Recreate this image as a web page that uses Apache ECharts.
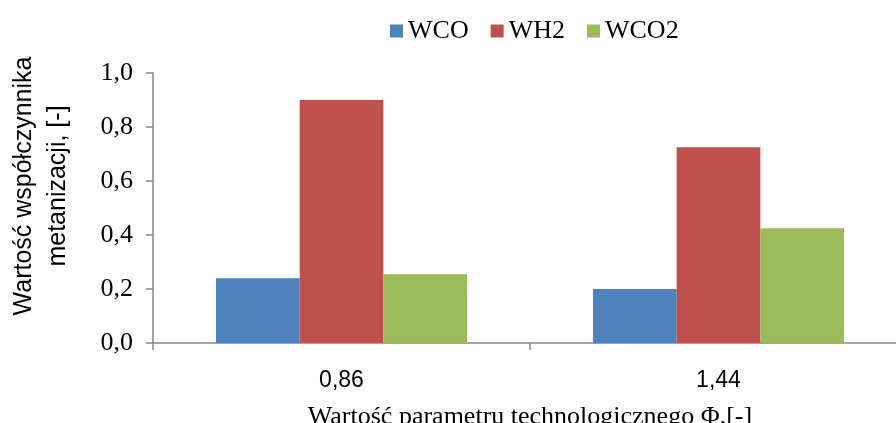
<!DOCTYPE html>
<html>
<head>
<meta charset="utf-8">
<script src="https://cdn.jsdelivr.net/npm/echarts@6/dist/echarts.min.js"></script>
<style>
  html, body { margin: 0; padding: 0; background: #fff; }
  #chart { width: 896px; height: 423px; }
</style>
</head>
<body>
<div id="chart"></div>
<script>
// Methanation coefficients for two values of the technological parameter Φ
const categories = ['0,86', '1,44'];
const seriesNames = ['WCO', 'WH2', 'WCO2'];
const wco = [0.24, 0.20];
const wh2 = [0.90, 0.725];
const wco2 = [0.255, 0.425];
const yTicks = [0, 0.2, 0.4, 0.6, 0.8, 1.0];

const colors = ['#4F81BD', '#C0504D', '#9BBB59'];
const axisGray = '#868686';
const serif = '"Liberation Serif", "Times New Roman", serif';
const sans = '"Liberation Sans", Arial, sans-serif';

const chart = echarts.init(document.getElementById('chart'));
chart.setOption({
  animation: false,
  color: colors,
  legend: {
    data: seriesNames,
    top: 13,
    left: 385,
    icon: 'rect',
    itemWidth: 13,
    itemHeight: 13,
    itemGap: 22,
    textStyle: { fontFamily: serif, fontSize: 26, color: '#000' }
  },
  grid: { left: 153, top: 73, width: 754, height: 270, outerBoundsMode: 'none' },
  xAxis: {
    type: 'category',
    data: categories,
    axisLine: { lineStyle: { color: axisGray, width: 1.5 } },
    axisTick: { show: true, length: 7, lineStyle: { color: axisGray, width: 1.5 } },
    axisLabel: { margin: 26, fontFamily: sans, fontSize: 23, color: '#000' },
    name: 'Wartość parametru technologicznego Φ,[-]',
    nameLocation: 'middle',
    nameGap: 61,
    nameTextStyle: { fontFamily: serif, fontSize: 26, color: '#000' }
  },
  yAxis: {
    type: 'value',
    min: yTicks[0],
    max: yTicks[yTicks.length - 1],
    interval: 0.2,
    splitLine: { show: false },
    axisLine: { show: true, lineStyle: { color: axisGray, width: 1.5 } },
    axisTick: { show: true, length: 7, lineStyle: { color: axisGray, width: 1.5 } },
    axisLabel: {
      margin: 20,
      fontFamily: serif,
      fontSize: 26,
      color: '#000',
      formatter: v => v.toFixed(1).replace('.', ',')
    }
  },
  graphic: [{
    type: 'text',
    x: 41,
    y: 186,
    rotation: Math.PI / 2,
    style: {
      text: 'Wartość współczynnika\nmetanizacji, [-]',
      fontFamily: sans,
      fontSize: 25,
      lineHeight: 34,
      fill: '#000',
      align: 'center',
      verticalAlign: 'middle'
    }
  }],
  series: [
    { name: seriesNames[0], type: 'bar', data: wco, barGap: '0%', barCategoryGap: '33.4%' },
    { name: seriesNames[1], type: 'bar', data: wh2, barGap: '0%', barCategoryGap: '33.4%' },
    { name: seriesNames[2], type: 'bar', data: wco2, barGap: '0%', barCategoryGap: '33.4%' }
  ]
});
</script>
</body>
</html>
